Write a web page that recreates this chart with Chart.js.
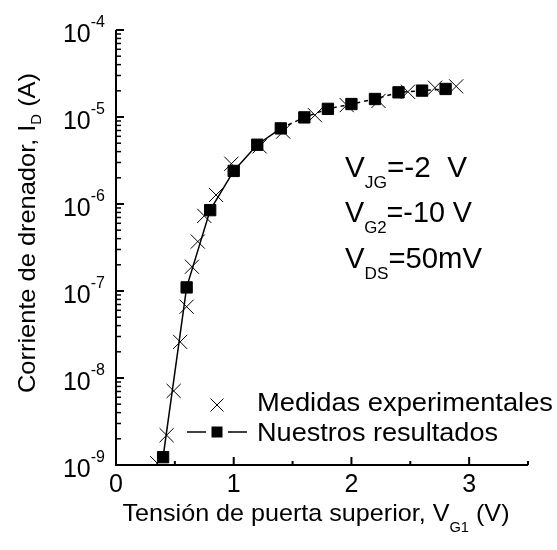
<!DOCTYPE html>
<html>
<head>
<meta charset="utf-8">
<script src="https://cdn.jsdelivr.net/npm/chart.js@4.4.0/dist/chart.umd.min.js"></script>
<style>
    html, body { margin: 0; padding: 0; background: #fff; }
</style>
</head>
<body>
<canvas id="ivChart" width="557" height="550"></canvas>
<script>
// Medidas experimentales (cruces)
const measuredVg = [0.35, 0.43, 0.49, 0.545, 0.6, 0.645, 0.695, 0.75, 0.85, 0.98, 1.22, 1.42, 1.69, 1.96, 2.23, 2.48, 2.71, 2.89];
const measuredId = [1.05e-9, 2.2e-9, 7.1e-9, 2.6e-8, 6.6e-8, 1.9e-7, 3.7e-7, 7.3e-7, 1.27e-6, 2.9e-6, 4.6e-6, 6.8e-6, 1.05e-5, 1.37e-5, 1.53e-5, 1.95e-5, 2.17e-5, 2.25e-5];

// Nuestros resultados (cuadrados + linea)
const modelVg = [0.4, 0.6, 0.8, 1.0, 1.2, 1.4, 1.6, 1.8, 2.0, 2.2, 2.4, 2.6, 2.8];
const modelId = [1.23e-9, 1.1e-7, 8.5e-7, 2.4e-6, 4.8e-6, 7.4e-6, 9.9e-6, 1.24e-5, 1.41e-5, 1.61e-5, 1.92e-5, 2.01e-5, 2.1e-5];

const xTicks = [0, 1, 2, 3];
const xMinorTicks = [0.5, 1.5, 2.5, 3.5];
const yExponents = [-9, -8, -7, -6, -5, -4];
const seriesNames = ["Medidas experimentales", "Nuestros resultados"];
const conditionLines = [
    ["V", "JG", "=-2  V"],
    ["V", "G2", "=-10 V"],
    ["V", "DS", "=50mV"]
];

const FONT = "'Liberation Sans', Arial, Helvetica, sans-serif";

// dibuja texto con sub/superindices, opcionalmente estirado a un ancho dado
function drawRich(ctx, parts, x, y, width, align) {
    let total = 0;
    parts.forEach(p => {
        ctx.font = `${p.size}px ${FONT}`;
        p.w = ctx.measureText(p.text).width;
        total += p.w;
    });
    const sx = width ? width / total : 1;
    ctx.save();
    ctx.translate(x, y);
    ctx.scale(sx, 1);
    ctx.textAlign = "left";
    ctx.textBaseline = "alphabetic";
    let cx = align === "center" ? -total / 2 : align === "right" ? -total : 0;
    parts.forEach(p => {
        ctx.font = `${p.size}px ${FONT}`;
        ctx.fillText(p.text, cx, p.dy || 0);
        cx += p.w;
    });
    ctx.restore();
}

function seg(ctx, x1, y1, x2, y2, w) {
    ctx.lineWidth = w;
    ctx.beginPath();
    ctx.moveTo(x1, y1);
    ctx.lineTo(x2, y2);
    ctx.stroke();
}

const paperAxes = {
    id: "paperAxes",
    afterDraw(chart) {
        const ctx = chart.ctx;
        const area = chart.chartArea;
        const xs = chart.scales.x;
        const ys = chart.scales.y;

        ctx.save();
        ctx.strokeStyle = "#000";
        ctx.fillStyle = "#000";
        ctx.lineCap = "butt";

        // ejes
        ctx.lineWidth = 2;
        ctx.beginPath();
        ctx.moveTo(area.left, area.top);
        ctx.lineTo(area.left, area.bottom);
        ctx.lineTo(area.right, area.bottom);
        ctx.stroke();

        // eje y: marcas y etiquetas
        yExponents.forEach((e, i) => {
            const y = ys.getPixelForValue(Math.pow(10, e));
            seg(ctx, area.left, y, area.left + 8, y, 2);
            if (i < yExponents.length - 1) {
                for (let m = 2; m <= 9; m++) {
                    const ym = ys.getPixelForValue(m * Math.pow(10, e));
                    seg(ctx, area.left, ym, area.left + 5, ym, 1.5);
                }
            }
            drawRich(ctx, [
                { text: "10", size: 25 },
                { text: String(e), size: 16, dy: -15 }
            ], area.left - 11, y + 12, 0, "right");
        });

        // eje x: marcas y etiquetas
        xTicks.forEach(v => {
            const x = xs.getPixelForValue(v);
            seg(ctx, x, area.bottom, x, area.bottom - 8, 2);
            drawRich(ctx, [{ text: String(v), size: 25 }], x, 492, 0, "center");
        });
        xMinorTicks.forEach(v => {
            const x = xs.getPixelForValue(v);
            seg(ctx, x, area.bottom, x, area.bottom - 4, 2);
        });

        // titulos de ejes
        drawRich(ctx, [
            { text: "Tensión de puerta superior, V", size: 24 },
            { text: "G1", size: 14, dy: 11 },
            { text: " (V)", size: 24 }
        ], 316, 521, 387, "center");

        ctx.save();
        ctx.translate(35, 233);
        ctx.rotate(-Math.PI / 2);
        drawRich(ctx, [
            { text: "Corriente de drenador, I", size: 24 },
            { text: "D", size: 14, dy: 6 },
            { text: " (A)", size: 24 }
        ], 0, 0, 320, "center");
        ctx.restore();

        // condiciones
        const condBase = [177, 222, 268];
        const condWidth = [122, 127, 137];
        conditionLines.forEach((row, i) => {
            drawRich(ctx, [
                { text: row[0], size: 29 },
                { text: row[1], size: 17, dy: 11 },
                { text: row[2], size: 29 }
            ], 345, condBase[i], condWidth[i], "left");
        });

        // leyenda
        const lx = 217;
        const c = 6.5;
        seg(ctx, lx - c, 405 - c, lx + c, 405 + c, 1);
        seg(ctx, lx - c, 405 + c, lx + c, 405 - c, 1);
        drawRich(ctx, [{ text: seriesNames[0], size: 25 }], 257, 411, 296, "left");

        seg(ctx, 187, 432, 206, 432, 1.5);
        seg(ctx, 228, 432, 247, 432, 1.5);
        ctx.fillRect(lx - 5.5, 432 - 5.5, 11, 11);
        drawRich(ctx, [{ text: seriesNames[1], size: 25 }], 257, 441, 241, "left");

        ctx.restore();
    }
};

new Chart(document.getElementById("ivChart"), {
    type: "scatter",
    data: {
        datasets: [
            {
                label: seriesNames[1],
                data: modelVg.map((x, i) => ({ x: x, y: modelId[i] })),
                showLine: true,
                borderColor: "#000",
                backgroundColor: "#000",
                borderWidth: 1.5,
                pointStyle: "rect",
                pointRadius: 8,
                pointBorderWidth: 1,
                tension: 0,
                order: 0,
                segment: {
                    borderDash: ctx => ctx.p0.parsed.x >= 1.3 ? [4, 4] : undefined
                }
            },
            {
                label: seriesNames[0],
                data: measuredVg.map((x, i) => ({ x: x, y: measuredId[i] })),
                showLine: false,
                borderColor: "#000",
                backgroundColor: "#000",
                borderWidth: 1,
                pointStyle: "crossRot",
                pointRadius: 10,
                order: 1
            }
        ]
    },
    options: {
        responsive: false,
        animation: false,
        devicePixelRatio: 1,
        events: [],
        layout: {
            padding: { left: 116, right: 29, top: 30, bottom: 85 }
        },
        plugins: {
            legend: { display: false },
            tooltip: { enabled: false }
        },
        scales: {
            x: { type: "linear", min: 0, max: 3.5, display: false },
            y: { type: "logarithmic", min: 1e-9, max: 1e-4, display: false }
        }
    },
    plugins: [paperAxes]
});
</script>
</body>
</html>
